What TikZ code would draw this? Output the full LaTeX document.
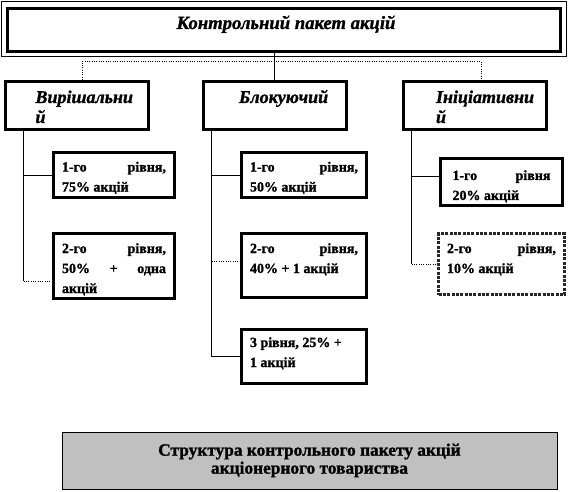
\documentclass[tikz,border=0pt]{standalone}
\usepackage{fontspec}
\setmainfont{Liberation Serif}[BoldFeatures={FakeBold=1.2},BoldItalicFeatures={FakeBold=1.2}]
\newdimen\px \px=0.75pt
\newcommand\cellbox[4]{\parbox[c][#2\px][t]{#1\px}{\raggedright\rule{0pt}{#3\px}#4}}
\newcommand\jcellbox[4]{\parbox[c][#2\px][t]{#1\px}{\rule{0pt}{#3\px}#4}}
\definecolor{capgray}{RGB}{192,192,192}
\begin{document}
\begin{tikzpicture}[x=0.75pt,y=-0.75pt,
  frame/.style={draw, line width=2.25pt, inner ysep=0pt, fill=white},
  lvltwo/.style={frame, minimum width=143\px, minimum height=48\px, inner xsep=30\px,
    font=\bfseries\itshape\fontsize{13.5}{15}\selectfont},
  lvlthree/.style={frame, font=\bfseries\fontsize{10.5}{15}\selectfont},
  conn/.style={line width=0.75pt},
  dconn/.style={line width=0.75pt, densely dotted}]
\useasboundingbox (0,0) rectangle (568,492);

% top box
\node[draw, line width=2.25pt, minimum width=553\px, minimum height=43\px, inner sep=0pt,
  font=\bfseries\itshape\fontsize{14}{16}\selectfont] (top) at (284,30)
  {\parbox[c][43\px][t]{553\px}{\centering\rule{0pt}{20.5\px}\hspace*{4\px}Контрольний пакет акцій}};
\draw[line width=0.75pt] ([shift={(-4.5,-5.5)}]top.north west) rectangle ([shift={(4.5,3.5)}]top.south east);

% level two
\node[lvltwo] (V) at (77,105.5) {\cellbox{83}{48}{21.5}{Вирішальни\\й}};
\node[lvltwo] (B) at (274.5,105.5) {\cellbox{83}{48}{21.5}{\hspace*{6\px}Блокуючий}};
\node[lvltwo] (I) at (474.5,105.5) {\cellbox{83}{48}{21.5}{\hspace*{3\px}Ініціативни\\\hspace*{3\px}й}};

% level three, left
\node[lvlthree, minimum width=121\px, minimum height=45\px, inner xsep=8.5\px] (L1) at (114,175)
  {\jcellbox{104}{45}{19}{1-го\hfill рівня,\\75\% акцій}};
\node[lvlthree, minimum width=121\px, minimum height=65\px, inner xsep=8.5\px] (L2) at (114,266)
  {\jcellbox{104}{65}{19.5}{2-го\hfill рівня,\\50\%\hfill +\hfill одна\\акцій}};
% middle
\node[lvlthree, minimum width=125\px, minimum height=45\px, inner xsep=8.5\px] (M1) at (304,175)
  {\jcellbox{108}{45}{19}{1-го\hfill рівня,\\50\% акцій}};
\node[lvlthree, minimum width=125\px, minimum height=64\px, inner xsep=8.5\px] (M2) at (304,265.5)
  {\jcellbox{108}{64}{19.5}{2-го\hfill рівня,\\40\% + 1 акцій}};
\node[lvlthree, minimum width=125\px, minimum height=54\px, inner xsep=8.5\px] (M3) at (304,356.5)
  {\jcellbox{108}{54}{17.5}{3 рівня, 25\% +\\1 акцій}};
% right
\node[lvlthree, minimum width=122\px, minimum height=47\px, inner xsep=12\px] (R1) at (501.5,182)
  {\jcellbox{98}{47}{21.5}{1-го\hfill рівня\\20\% акцій}};
\node[lvlthree, minimum width=126\px, minimum height=61\px, inner xsep=8.5\px,
  densely dotted, draw=black!85] (R2) at (501.5,264)
  {\jcellbox{109}{61}{19.5}{2-го\hfill рівня,\\10\% акцій}};

% caption box
\node[draw, line width=0.75pt, fill=capgray, minimum width=495\px, minimum height=57\px,
  inner sep=0pt, align=center, font=\bfseries\fontsize{13}{13.5}\selectfont] (cap) at (309.5,460.5)
  {Структура контрольного пакету акцій\\акціонерного товариства};

% connectors from top
\draw[conn] (top.south -| B.north) -- (B.north);
\coordinate (dl) at ([shift={(5,0)}]V.north);
\coordinate (dr) at ([shift={(6.5,0)}]I.north);
\draw[dconn] (dl) -- ++(0,-18.5) -| (dr);

% left tree
\coordinate (vl) at ([shift={(19.5,0)}]V.south west);
\coordinate (lj2) at ([shift={(0,15)}]L2.west);
\draw[conn] (vl) -- (vl |- lj2);
\draw[conn] (vl |- L1.west) -- (L1.west);
\draw[dconn] (vl |- lj2) -- (lj2);

% middle tree
\coordinate (mv) at ([shift={(10,0)}]B.south west);
\coordinate (mj2) at ([shift={(0,-4.5)}]M2.west);
\draw[conn] (mv) -- (mv |- M3.west) -- (M3.west);
\draw[conn] (mv |- M1.west) -- (M1.west);
\draw[dconn] (mv |- mj2) -- (mj2);

% right tree
\coordinate (rv) at ([shift={(10,0)}]I.south west);
\coordinate (rj1) at ([shift={(0,-6)}]R1.west);
\draw[conn] (rv) -- (rv |- R2.west);
\draw[conn] (rv |- rj1) -- (rj1);
\draw[dconn] (rv |- R2.west) -- (R2.west);
\end{tikzpicture}
\end{document}
